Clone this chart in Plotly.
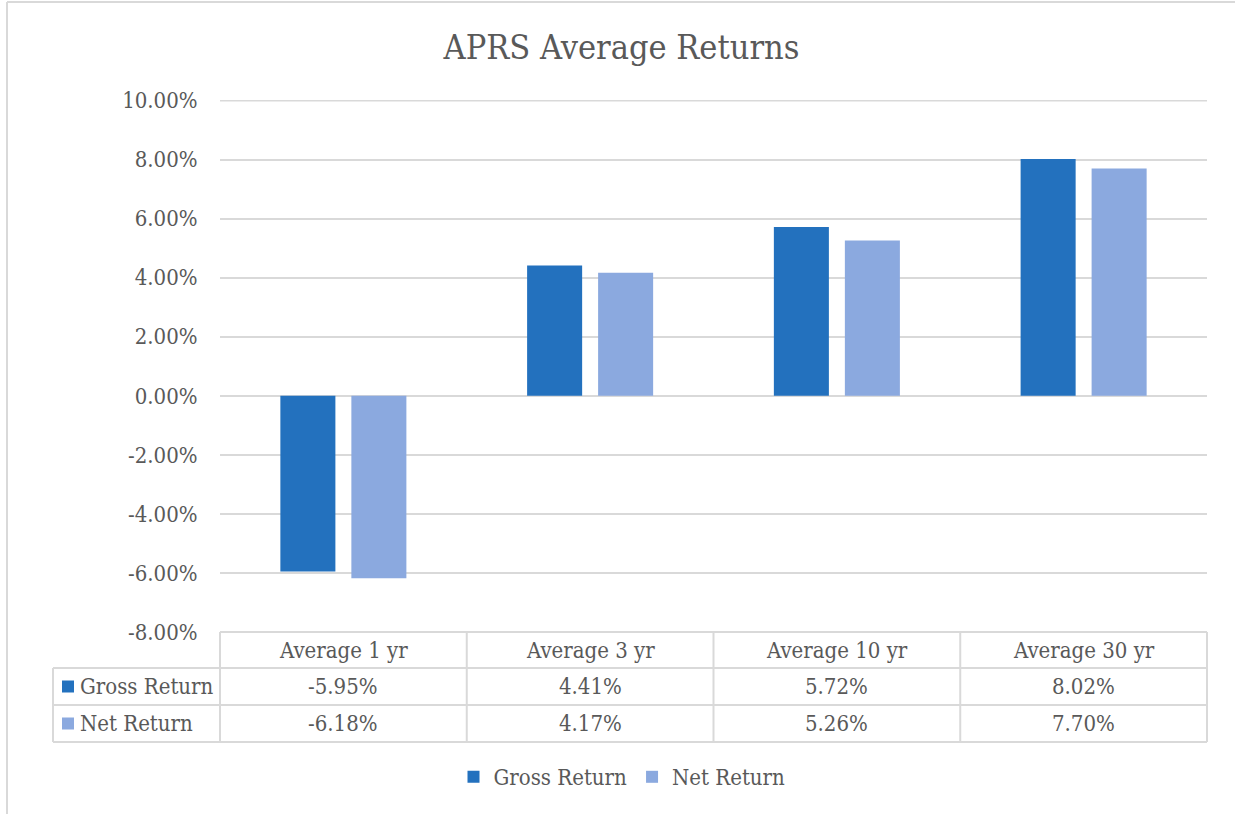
import plotly.graph_objects as go

categories = ["Average 1 yr", "Average 3 yr", "Average 10 yr", "Average 30 yr"]
series_names = ["Gross Return", "Net Return"]
gross_return = [-0.0595, 0.0441, 0.0572, 0.0802]
net_return = [-0.0618, 0.0417, 0.0526, 0.0770]
colors = ["#2371BE", "#8BA9DF"]
tick_values = [-0.08, -0.06, -0.04, -0.02, 0.0, 0.02, 0.04, 0.06, 0.08, 0.10]
tick_labels = [f"{v * 100:.2f}%" for v in tick_values]

W, H = 1235, 814
L, R, T, B = 220, 28, 100, 182
PW, PH = W - L - R, H - T - B
FONT = "DejaVu Serif Condensed, DejaVu Serif, serif"
TXT = "#595959"
GRID = "#d9d9d9"
FS = 22


def px(x):
    return (x - L) / PW


def py(y):
    return (H - B - y) / PH


fig = go.Figure()
for name, vals, col in zip(series_names, [gross_return, net_return], colors):
    fig.add_trace(go.Bar(x=list(range(len(categories))), y=vals, name=name,
                         marker=dict(color=col, line=dict(width=0))))

shapes = []
annotations = []
# chart frame
shapes.append(dict(type="line", xref="paper", yref="paper", x0=px(7), x1=px(W + 5),
                   y0=py(2), y1=py(2), line=dict(color=GRID, width=2)))
shapes.append(dict(type="line", xref="paper", yref="paper", x0=px(7), x1=px(7),
                   y0=py(2), y1=py(H + 5), line=dict(color=GRID, width=2)))
# top gridline (at the axis edge)
shapes.append(dict(type="line", xref="paper", yref="y", x0=0, x1=1,
                   y0=tick_values[-1], y1=tick_values[-1], layer="below",
                   line=dict(color=GRID, width=2)))

# data table
n = len(categories)
row_y = [H - B, H - B + 36, H - B + 73, H - B + 110]
left_x = 53
shapes.append(dict(type="line", xref="paper", yref="paper", x0=0, x1=1,
                   y0=py(row_y[0]), y1=py(row_y[0]), line=dict(color=GRID, width=2)))
for yy in row_y[1:]:
    shapes.append(dict(type="line", xref="paper", yref="paper", x0=px(left_x), x1=1,
                       y0=py(yy), y1=py(yy), line=dict(color=GRID, width=2)))
shapes.append(dict(type="line", xref="paper", yref="paper", x0=px(left_x), x1=px(left_x),
                   y0=py(row_y[1]), y1=py(row_y[3]), line=dict(color=GRID, width=2)))
for i in range(n + 1):
    xx = i / n
    shapes.append(dict(type="line", xref="paper", yref="paper", x0=xx, x1=xx,
                       y0=py(row_y[0]), y1=py(row_y[3]), line=dict(color=GRID, width=2)))
for i, c in enumerate(categories):
    annotations.append(dict(xref="paper", yref="paper", x=(i + 0.5) / n,
                            y=py((row_y[0] + row_y[1]) / 2), text=c, showarrow=False,
                            xanchor="center", yanchor="middle",
                            font=dict(family=FONT, size=FS, color=TXT)))
for r, (name, vals, col) in enumerate(zip(series_names, [gross_return, net_return], colors)):
    yc = (row_y[r + 1] + row_y[r + 2]) / 2
    shapes.append(dict(type="rect", xref="paper", yref="paper", x0=px(62), x1=px(74),
                       y0=py(yc - 6), y1=py(yc + 6), fillcolor=col, line=dict(width=0)))
    annotations.append(dict(xref="paper", yref="paper", x=px(78), y=py(yc), xanchor="left",
                            yanchor="middle", text=name, showarrow=False,
                            font=dict(family=FONT, size=FS, color=TXT)))
    for i, v in enumerate(vals):
        annotations.append(dict(xref="paper", yref="paper", x=(i + 0.5) / n, y=py(yc),
                                xanchor="center", yanchor="middle",
                                text=f"{v * 100:.2f}%", showarrow=False,
                                font=dict(family=FONT, size=FS, color=TXT)))

fig.update_layout(
    width=W, height=H,
    margin=dict(l=L, r=R, t=T, b=B, autoexpand=False),
    paper_bgcolor="white", plot_bgcolor="white",
    title=dict(text="APRS Average Returns", x=(443 + 800) / 2 / W, xanchor="center",
               y=1 - 47 / H, yanchor="middle",
               font=dict(family=FONT, size=34, color=TXT)),
    barmode="group", bargap=0.4245, bargroupgap=0.225,
    font=dict(family=FONT, size=FS, color=TXT),
    xaxis=dict(range=[-0.5, n - 0.5], showticklabels=False, showgrid=False,
               zeroline=False, showline=False, fixedrange=True),
    yaxis=dict(range=[-0.08, 0.1002], tickvals=tick_values, ticktext=tick_labels,
               showgrid=True, gridcolor=GRID, gridwidth=2, zeroline=True,
               zerolinecolor=GRID, zerolinewidth=2, showline=False,
               ticks="outside", ticklen=17, tickcolor="rgba(0,0,0,0)",
               tickfont=dict(family=FONT, size=FS, color=TXT)),
    showlegend=True,
    legend=dict(orientation="h", x=px(622), xanchor="center", y=py(777), yanchor="middle",
                font=dict(family=FONT, size=FS, color=TXT), bgcolor="rgba(0,0,0,0)",
                itemwidth=30, traceorder="normal"),
    shapes=shapes, annotations=annotations,
)

fig.write_html("out.html", config={"displayModeBar": False},
               post_script="document.body.style.margin='0';")
